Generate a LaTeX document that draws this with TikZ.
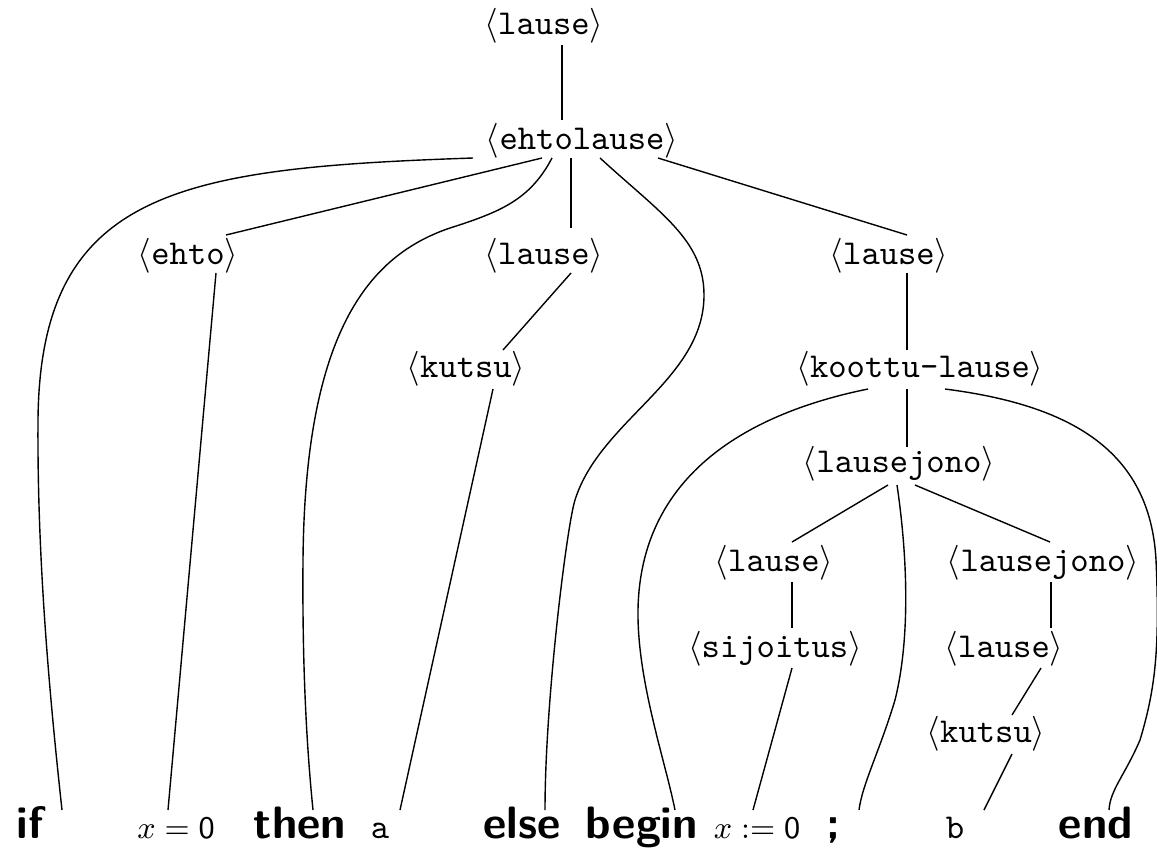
\documentclass[tikz,border=0pt]{standalone}
\usetikzlibrary{calc}
\newcommand{\nt}[1]{$\langle$\texttt{#1}$\rangle$}
\begin{document}
\begin{tikzpicture}[x=0.2865pt,y=-0.2865pt,
  nn/.style={inner sep=0pt, anchor=base},
  kw/.style={inner sep=0pt, anchor=base, font=\fontsize{13}{15}\selectfont\sffamily\bfseries},
  mt/.style={inner sep=0pt, anchor=base, font=\fontsize{8.8}{10}\selectfont},
  every path/.style={line width=0.4pt}]
\useasboundingbox (0,0) rectangle (1157,849);
% inner nodes
\node[nn] (n0)  at (544,34)  {\nt{lause}};
\node[nn] (n1)  at (582,149) {\nt{ehtolause}};
\node[nn] (n2a) at (188,264) {\nt{ehto}};
\node[nn] (n2b) at (544,264) {\nt{lause}};
\node[nn] (n2c) at (889,264) {\nt{lause}};
\node[nn] (n3a) at (466,377) {\nt{kutsu}};
\node[nn] (n3b) at (920,377) {\nt{koottu-lause}};
\node[nn] (n4)  at (899,472) {\nt{lausejono}};
\node[nn] (n5a) at (774,571) {\nt{lause}};
\node[nn] (n5b) at (1043,571) {\nt{lausejono}};
\node[nn] (n6a) at (775,657) {\nt{sijoitus}};
\node[nn] (n6b) at (1004,657) {\nt{lause}};
\node[nn] (n7)  at (986,742) {\nt{kutsu}};
% leaves
\node[kw] (lif)    at (30,838)  {if};
\node[mt] (lx0)    at (176,838) {$x=\mathsf{0}$};
\node[kw] (lthen)  at (300,838) {then};
\node[nn] (la)     at (380,838) {\texttt{a}};
\node[kw] (lelse)  at (522,838) {else};
\node[kw] (lbegin) at (642,838) {begin};
\node[mt] (lx1)    at (757,838) {$x:=\mathsf{0}$};
\node[kw] (lsemi)  at (833,838) {;};
\node[nn] (lb)     at (955,838) {\texttt{b}};
\node[kw] (lend)   at (1096,838) {end};
% straight edges
\draw ($(n0.base)+(18,11)$) -- ($(n1.base)+(-20,-29)$);
\draw ($(n1.base)+(-40,9)$) -- ($(n2a.base)+(38,-29)$);
\draw ($(n1.base)+(-11,9)$) -- ($(n2b.base)+(27,-36)$);
\draw ($(n1.base)+(76,9)$) -- ($(n2c.base)+(18,-29)$);
\draw ($(n2a.base)+(28,9)$) -- ($(lx0.base)+(-8,-28)$);
\draw ($(n2b.base)+(27,9)$) -- ($(n3a.base)+(37,-27)$);
\draw ($(n3a.base)+(27,12)$) -- ($(la.base)+(20,-28)$);
\draw ($(n2c.base)+(18,9)$) -- ($(n3b.base)+(-13,-27)$);
\draw ($(n3b.base)+(-13,12)$) -- ($(n4.base)+(8,-25)$);
\draw ($(n4.base)+(-11,13)$) -- ($(n5a.base)+(18,-29)$);
\draw ($(n4.base)+(16,13)$) -- ($(n5b.base)+(7,-29)$);
\draw ($(n5a.base)+(18,11)$) -- ($(n6a.base)+(17,-29)$);
\draw ($(n6a.base)+(17,11)$) -- ($(lx1.base)+(-4,-28)$);
\draw ($(n5b.base)+(8,11)$) -- ($(n6b.base)+(47,-29)$);
\draw ($(n6b.base)+(37,11)$) -- ($(n7.base)+(26,-27)$);
\draw ($(n7.base)+(26,12)$) -- ($(lb.base)+(29,-28)$);
% curved edges
\draw ($(n1.base)+(-109,9)$) .. controls (180,168) and (40,190) .. (38,420)
      .. controls (37,560) and (50,700) .. ($(lif.base)+(32,-28)$);
\draw ($(n1.base)+(-30,9)$) .. controls (530,200) and (500,212) .. (450,228)
      .. controls (370,255) and (305,330) .. (303,560)
      .. controls (302,680) and (308,760) .. ($(lthen.base)+(13,-28)$);
\draw ($(n1.base)+(18,9)$) .. controls (660,213) and (704,240) .. (704,295)
      .. controls (704,380) and (600,420) .. (575,500)
      .. controls (567,525) and (545,700) .. ($(lelse.base)+(23,-28)$);
\draw ($(n3b.base)+(-52,12)$) .. controls (740,415) and (640,480) .. (638,610)
      .. controls (637,680) and (665,760) .. ($(lbegin.base)+(33,-28)$);
\draw ($(n3b.base)+(25,12)$) .. controls (1070,405) and (1150,450) .. (1156,560)
      .. controls (1160,650) and (1155,690) .. (1140,740)
      .. controls (1125,775) and (1110,790) .. ($(lend.base)+(13,-28)$);
\draw ($(n4.base)+(-2,13)$) .. controls (908,560) and (910,640) .. (895,700)
      .. controls (880,750) and (862,785) .. ($(lsemi.base)+(26,-28)$);
\end{tikzpicture}
\end{document}
